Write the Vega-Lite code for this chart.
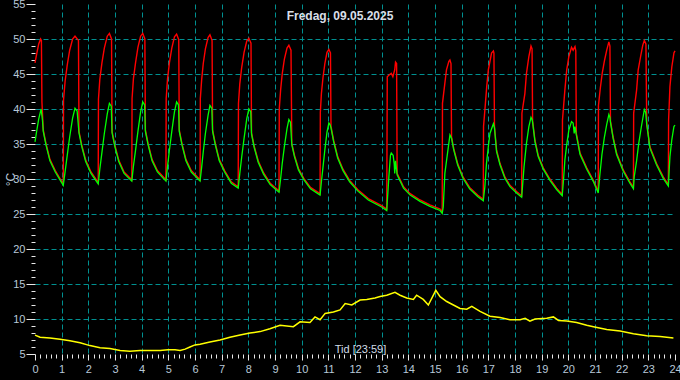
{
  "$schema": "https://vega.github.io/schema/vega-lite/v6.json",
  "width": 640,
  "height": 350,
  "autosize": {"type": "none"},
  "padding": {"left": 35, "top": 4, "right": 5, "bottom": 26},
  "background": "#000000",
  "title": {"text": "Fredag, 09.05.2025", "color": "#d8dee6", "fontSize": 12, "fontWeight": "bold", "font": "Liberation Sans", "anchor": "middle", "offset": -25, "dx": -15},
  "config": {"view": {"stroke": null}},
  "datasets": {
    "rod": [
      {"t":0,"v":46.6},{"t":0.07,"v":48.0},{"t":0.14,"v":49.3},{"t":0.21,"v":50.0},{"t":0.24,"v":49.8},{"t":0.26,"v":41.0},{"t":0.31,"v":37.0},
      {"t":0.41,"v":35.1},{"t":0.56,"v":32.8},{"t":0.76,"v":31.2},{"t":1.01,"v":29.6},{"t":1.06,"v":29.3},
      {"t":1.07,"v":41.3},{"t":1.13,"v":44.0},{"t":1.21,"v":46.3},{"t":1.30,"v":48.4},{"t":1.41,"v":50.0},{"t":1.50,"v":50.4},{"t":1.63,"v":49.8},{"t":1.65,"v":36.8},
      {"t":1.75,"v":34.9},{"t":1.90,"v":32.7},{"t":2.10,"v":31.0},{"t":2.37,"v":29.5},
      {"t":2.38,"v":41.4},{"t":2.43,"v":44.2},{"t":2.51,"v":46.6},{"t":2.60,"v":48.7},{"t":2.71,"v":50.4},{"t":2.79,"v":50.8},{"t":2.87,"v":50.0},{"t":2.89,"v":36.8},
      {"t":2.99,"v":34.9},{"t":3.14,"v":32.7},{"t":3.34,"v":31.0},{"t":3.63,"v":29.9},
      {"t":3.64,"v":41.5},{"t":3.69,"v":44.3},{"t":3.77,"v":46.6},{"t":3.86,"v":48.8},{"t":3.96,"v":50.4},{"t":4.04,"v":50.8},{"t":4.12,"v":50.0},{"t":4.14,"v":37.0},
      {"t":4.24,"v":35.1},{"t":4.39,"v":32.8},{"t":4.59,"v":31.2},{"t":4.91,"v":29.9},
      {"t":4.92,"v":41.5},{"t":4.97,"v":44.3},{"t":5.04,"v":46.6},{"t":5.13,"v":48.7},{"t":5.23,"v":50.3},{"t":5.31,"v":50.7},{"t":5.39,"v":49.9},{"t":5.41,"v":37.0},
      {"t":5.51,"v":35.1},{"t":5.66,"v":32.8},{"t":5.86,"v":31.2},{"t":6.19,"v":29.9},
      {"t":6.20,"v":41.5},{"t":6.25,"v":44.2},{"t":6.31,"v":46.5},{"t":6.39,"v":48.6},{"t":6.49,"v":50.2},{"t":6.56,"v":50.6},{"t":6.64,"v":49.8},{"t":6.66,"v":37.0},
      {"t":6.76,"v":35.1},{"t":6.91,"v":32.8},{"t":7.11,"v":31.2},{"t":7.36,"v":29.6},{"t":7.62,"v":28.9},
      {"t":7.63,"v":40.8},{"t":7.68,"v":43.6},{"t":7.75,"v":45.9},{"t":7.84,"v":48.1},{"t":7.94,"v":49.7},{"t":8.02,"v":50.1},{"t":8.10,"v":49.4},{"t":8.12,"v":36.6},
      {"t":8.22,"v":34.7},{"t":8.37,"v":32.6},{"t":8.57,"v":30.9},{"t":8.82,"v":29.4},{"t":9.15,"v":28.3},
      {"t":9.16,"v":40.0},{"t":9.21,"v":42.7},{"t":9.27,"v":45.0},{"t":9.35,"v":47.1},{"t":9.45,"v":48.7},{"t":9.52,"v":49.1},{"t":9.60,"v":48.4},{"t":9.63,"v":35.1},
      {"t":9.73,"v":33.4},{"t":9.88,"v":31.5},{"t":10.08,"v":30.1},{"t":10.33,"v":28.8},{"t":10.69,"v":27.9},
      {"t":10.70,"v":39.5},{"t":10.74,"v":42.2},{"t":10.80,"v":44.5},{"t":10.87,"v":46.5},{"t":10.95,"v":48.1},{"t":11.02,"v":48.5},{"t":11.08,"v":48.0},{"t":11.10,"v":37.5},
      {"t":11.20,"v":35.5},{"t":11.35,"v":33.2},{"t":11.55,"v":31.4},{"t":11.80,"v":29.8},{"t":12.10,"v":28.5},{"t":12.50,"v":27.2},{"t":13.00,"v":26.2},{"t":13.19,"v":25.7},
      {"t":13.21,"v":44.6},{"t":13.29,"v":44.9},{"t":13.36,"v":45.1},{"t":13.42,"v":44.6},{"t":13.49,"v":45.6},{"t":13.52,"v":46.7},{"t":13.56,"v":46.5},{"t":13.58,"v":30.8},
      {"t":13.82,"v":28.9},{"t":14.07,"v":27.9},{"t":14.44,"v":27.0},{"t":14.81,"v":26.3},{"t":15.19,"v":25.7},{"t":15.27,"v":25.3},
      {"t":15.28,"v":40.8},{"t":15.37,"v":43.7},{"t":15.43,"v":45.6},{"t":15.52,"v":46.8},{"t":15.56,"v":47.0},{"t":15.60,"v":46.5},{"t":15.62,"v":36.0},
      {"t":15.70,"v":34.4},{"t":15.85,"v":32.2},{"t":16.05,"v":30.3},{"t":16.30,"v":28.8},{"t":16.60,"v":27.7},{"t":16.81,"v":27.1},
      {"t":16.82,"v":37.5},{"t":16.88,"v":40.3},{"t":16.94,"v":43.2},{"t":17.00,"v":45.6},{"t":17.12,"v":48.0},{"t":17.19,"v":48.3},{"t":17.21,"v":48.0},{"t":17.23,"v":37.5},
      {"t":17.31,"v":34.1},{"t":17.44,"v":32.2},{"t":17.62,"v":30.3},{"t":17.81,"v":29.1},{"t":18.06,"v":28.2},{"t":18.25,"v":27.6},
      {"t":18.26,"v":39.4},{"t":18.37,"v":42.2},{"t":18.43,"v":45.1},{"t":18.52,"v":47.5},{"t":18.60,"v":49.0},{"t":18.64,"v":48.6},{"t":18.66,"v":38.3},
      {"t":18.75,"v":35.5},{"t":18.87,"v":33.4},{"t":19.06,"v":31.6},{"t":19.31,"v":30.0},{"t":19.56,"v":28.7},{"t":19.77,"v":27.8},
      {"t":19.78,"v":38.4},{"t":19.87,"v":42.7},{"t":19.94,"v":45.6},{"t":20.02,"v":47.5},{"t":20.12,"v":48.8},{"t":20.18,"v":48.4},{"t":20.25,"v":48.9},{"t":20.28,"v":48.3},{"t":20.30,"v":36.5},
      {"t":20.44,"v":33.7},{"t":20.69,"v":31.6},{"t":20.93,"v":29.9},{"t":21.12,"v":28.2},
      {"t":21.13,"v":40.5},{"t":21.20,"v":43.0},{"t":21.27,"v":45.1},{"t":21.36,"v":47.0},{"t":21.44,"v":48.4},{"t":21.52,"v":49.6},{"t":21.56,"v":49.0},{"t":21.58,"v":38.3},
      {"t":21.68,"v":36.0},{"t":21.81,"v":33.7},{"t":22.06,"v":31.3},{"t":22.31,"v":29.6},{"t":22.44,"v":28.8},
      {"t":22.45,"v":39.4},{"t":22.56,"v":42.7},{"t":22.62,"v":45.6},{"t":22.71,"v":47.5},{"t":22.79,"v":49.1},{"t":22.85,"v":49.8},{"t":22.91,"v":49.3},{"t":22.94,"v":38.0},
      {"t":23.06,"v":34.6},{"t":23.31,"v":32.2},{"t":23.56,"v":30.3},{"t":23.75,"v":29.2},
      {"t":23.76,"v":38.4},{"t":23.81,"v":43.2},{"t":23.88,"v":46.0},{"t":23.96,"v":48.0},{"t":24.0,"v":48.3}
    ],
    "gron": [
      {"t":0,"v":35.3},{"t":0.07,"v":37.0},{"t":0.14,"v":38.6},{"t":0.23,"v":40.0},{"t":0.28,"v":38.4},{"t":0.31,"v":36.8},
      {"t":0.41,"v":34.9},{"t":0.56,"v":32.6},{"t":0.76,"v":31.0},{"t":1.01,"v":29.4},{"t":1.06,"v":29.1},
      {"t":1.13,"v":31.1},{"t":1.21,"v":33.4},{"t":1.30,"v":36.0},{"t":1.41,"v":38.7},{"t":1.50,"v":40.1},{"t":1.58,"v":39.7},{"t":1.65,"v":36.6},
      {"t":1.75,"v":34.7},{"t":1.90,"v":32.5},{"t":2.10,"v":30.8},{"t":2.37,"v":29.3},
      {"t":2.43,"v":31.4},{"t":2.51,"v":33.8},{"t":2.60,"v":36.5},{"t":2.71,"v":39.3},{"t":2.79,"v":40.8},{"t":2.86,"v":40.4},{"t":2.89,"v":36.6},
      {"t":2.99,"v":34.7},{"t":3.14,"v":32.5},{"t":3.34,"v":30.8},{"t":3.63,"v":29.7},
      {"t":3.69,"v":31.8},{"t":3.77,"v":34.1},{"t":3.86,"v":36.8},{"t":3.96,"v":39.6},{"t":4.04,"v":41.0},{"t":4.11,"v":40.6},{"t":4.14,"v":36.8},
      {"t":4.24,"v":34.9},{"t":4.39,"v":32.6},{"t":4.59,"v":31.0},{"t":4.91,"v":29.7},
      {"t":4.97,"v":31.8},{"t":5.04,"v":34.1},{"t":5.13,"v":36.8},{"t":5.23,"v":39.6},{"t":5.31,"v":41.0},{"t":5.38,"v":40.6},{"t":5.41,"v":36.8},
      {"t":5.51,"v":34.9},{"t":5.66,"v":32.6},{"t":5.86,"v":31.0},{"t":6.19,"v":29.7},
      {"t":6.25,"v":31.7},{"t":6.31,"v":33.9},{"t":6.39,"v":36.5},{"t":6.49,"v":39.1},{"t":6.56,"v":40.5},{"t":6.63,"v":40.1},{"t":6.66,"v":36.8},
      {"t":6.76,"v":34.9},{"t":6.91,"v":32.6},{"t":7.11,"v":31.0},{"t":7.36,"v":29.4},{"t":7.62,"v":28.7},
      {"t":7.68,"v":30.8},{"t":7.75,"v":33.1},{"t":7.84,"v":35.8},{"t":7.94,"v":38.6},{"t":8.02,"v":40.0},{"t":8.09,"v":39.6},{"t":8.12,"v":36.4},
      {"t":8.22,"v":34.5},{"t":8.37,"v":32.4},{"t":8.57,"v":30.7},{"t":8.82,"v":29.2},{"t":9.15,"v":28.1},
      {"t":9.21,"v":30.0},{"t":9.27,"v":32.2},{"t":9.35,"v":34.6},{"t":9.45,"v":37.2},{"t":9.52,"v":38.5},{"t":9.58,"v":38.1},{"t":9.63,"v":34.9},
      {"t":9.73,"v":33.2},{"t":9.88,"v":31.3},{"t":10.08,"v":29.9},{"t":10.33,"v":28.6},{"t":10.69,"v":27.7},
      {"t":10.74,"v":29.6},{"t":10.80,"v":31.7},{"t":10.87,"v":34.2},{"t":10.95,"v":36.7},{"t":11.02,"v":38.0},{"t":11.06,"v":37.8},{"t":11.10,"v":37.3},
      {"t":11.20,"v":35.3},{"t":11.35,"v":33.0},{"t":11.55,"v":31.2},{"t":11.80,"v":29.6},{"t":12.10,"v":28.3},{"t":12.50,"v":27.0},{"t":13.00,"v":26.0},{"t":13.19,"v":25.5},
      {"t":13.27,"v":30.3},{"t":13.33,"v":33.4},{"t":13.36,"v":33.7},{"t":13.43,"v":33.4},{"t":13.47,"v":32.2},{"t":13.49,"v":30.8},{"t":13.52,"v":32.6},{"t":13.58,"v":30.6},
      {"t":13.82,"v":28.7},{"t":14.07,"v":27.7},{"t":14.44,"v":26.8},{"t":14.81,"v":26.1},{"t":15.19,"v":25.5},{"t":15.27,"v":25.1},
      {"t":15.31,"v":26.0},{"t":15.37,"v":30.8},{"t":15.47,"v":33.7},{"t":15.56,"v":36.3},{"t":15.60,"v":36.0},{"t":15.62,"v":35.8},
      {"t":15.70,"v":34.2},{"t":15.85,"v":32.0},{"t":16.05,"v":30.1},{"t":16.30,"v":28.6},{"t":16.60,"v":27.5},{"t":16.81,"v":26.9},
      {"t":16.87,"v":28.9},{"t":16.93,"v":32.2},{"t":17.00,"v":34.6},{"t":17.06,"v":36.5},{"t":17.19,"v":37.9},{"t":17.23,"v":37.3},
      {"t":17.31,"v":33.9},{"t":17.44,"v":32.0},{"t":17.62,"v":30.1},{"t":17.81,"v":28.9},{"t":18.06,"v":28.0},{"t":18.25,"v":27.4},
      {"t":18.34,"v":31.8},{"t":18.43,"v":35.1},{"t":18.52,"v":37.5},{"t":18.60,"v":38.8},{"t":18.64,"v":38.5},{"t":18.66,"v":38.1},
      {"t":18.75,"v":35.3},{"t":18.87,"v":33.2},{"t":19.06,"v":31.4},{"t":19.31,"v":29.8},{"t":19.56,"v":28.5},{"t":19.77,"v":27.6},
      {"t":19.82,"v":29.9},{"t":19.87,"v":32.7},{"t":19.94,"v":34.9},{"t":20.02,"v":37.0},{"t":20.12,"v":38.2},{"t":20.18,"v":38.0},{"t":20.22,"v":36.5},{"t":20.25,"v":37.5},{"t":20.30,"v":36.3},
      {"t":20.44,"v":33.5},{"t":20.69,"v":31.4},{"t":20.93,"v":29.7},{"t":21.12,"v":28.0},
      {"t":21.18,"v":30.5},{"t":21.26,"v":33.5},{"t":21.35,"v":35.9},{"t":21.44,"v":37.8},{"t":21.52,"v":39.2},{"t":21.56,"v":38.8},{"t":21.58,"v":38.1},
      {"t":21.68,"v":35.8},{"t":21.81,"v":33.5},{"t":22.06,"v":31.1},{"t":22.31,"v":29.4},{"t":22.44,"v":28.6},
      {"t":22.47,"v":30.3},{"t":22.56,"v":32.6},{"t":22.64,"v":35.1},{"t":22.74,"v":37.5},{"t":22.85,"v":39.9},{"t":22.90,"v":39.5},{"t":22.94,"v":37.8},
      {"t":23.06,"v":34.4},{"t":23.31,"v":32.0},{"t":23.56,"v":30.1},{"t":23.75,"v":29.0},
      {"t":23.81,"v":33.2},{"t":23.88,"v":35.6},{"t":23.96,"v":37.5},{"t":24.0,"v":37.7}
    ],
    "gul": [
      {"t":0,"v":7.7},{"t":0.19,"v":7.4},{"t":0.56,"v":7.3},{"t":0.94,"v":7.1},{"t":1.31,"v":6.9},{"t":1.69,"v":6.6},{"t":2.06,"v":6.2},{"t":2.44,"v":5.9},{"t":2.81,"v":5.8},{"t":3.19,"v":5.5},{"t":3.56,"v":5.4},{"t":3.94,"v":5.5},{"t":4.31,"v":5.5},{"t":4.69,"v":5.5},{"t":4.99,"v":5.6},{"t":5.25,"v":5.6},{"t":5.44,"v":5.5},{"t":5.63,"v":5.7},{"t":5.81,"v":6.0},{"t":6.0,"v":6.3},{"t":6.19,"v":6.4},
      {"t":6.56,"v":6.7},{"t":6.94,"v":7.0},{"t":7.31,"v":7.4},{"t":7.69,"v":7.7},{"t":8.06,"v":8.0},{"t":8.44,"v":8.2},{"t":8.81,"v":8.6},{"t":9.19,"v":9.1},{"t":9.69,"v":8.9},{"t":9.94,"v":9.6},{"t":10.31,"v":9.5},{"t":10.5,"v":10.3},{"t":10.69,"v":9.9},{"t":10.88,"v":10.8},
      {"t":11.19,"v":11.0},{"t":11.44,"v":11.3},{"t":11.63,"v":12.2},{"t":11.88,"v":12.0},{"t":12.19,"v":12.7},{"t":12.44,"v":12.8},{"t":12.75,"v":13.0},{"t":12.94,"v":13.2},{"t":13.19,"v":13.4},{"t":13.5,"v":13.8},{"t":13.69,"v":13.4},{"t":13.94,"v":13.0},{"t":14.19,"v":12.8},{"t":14.31,"v":13.4},{"t":14.56,"v":12.8},{"t":14.75,"v":12.0},{"t":15.03,"v":14.1},{"t":15.19,"v":13.2},{"t":15.44,"v":12.5},{"t":15.69,"v":12.0},{"t":15.94,"v":11.5},{"t":16.19,"v":11.4},{"t":16.38,"v":11.8},{"t":16.69,"v":11.1},
      {"t":17.06,"v":10.4},{"t":17.44,"v":10.2},{"t":17.81,"v":9.9},{"t":18.19,"v":9.9},{"t":18.38,"v":10.1},{"t":18.56,"v":9.7},{"t":18.75,"v":10.0},{"t":19.19,"v":10.1},{"t":19.44,"v":10.3},{"t":19.63,"v":9.8},{"t":19.94,"v":9.7},{"t":20.31,"v":9.5},{"t":20.69,"v":9.1},{"t":20.94,"v":8.9},{"t":21.44,"v":8.5},{"t":21.94,"v":8.3},{"t":22.44,"v":7.9},{"t":22.94,"v":7.6},{"t":23.44,"v":7.5},{"t":23.94,"v":7.3}
    ]
  },
  "encoding": {
    "x": {"field": "t", "type": "quantitative",
      "scale": {"domain": [0, 24], "nice": false, "zero": false},
      "axis": {"tickCount": 120, "labelExpr": "abs(datum.value-round(datum.value))<0.01 ? format(datum.value,'d') : ''",
        "labelOverlap": false, "labelFlush": false, "domain": false,
        "tickColor": "#e8e8e8", "tickSize": {"condition": {"test": "abs(datum.value-round(datum.value))<0.01", "value": 6}, "value": 4},
        "grid": true, "gridColor": "#009090", "gridDash": [5, 3],
        "gridOpacity": {"condition": {"test": "abs(datum.value-round(datum.value))<0.01 && datum.value>0.5 && datum.value<23.5", "value": 1}, "value": 0},
        "labelColor": "#b8c8d8", "labelFont": "Liberation Sans Narrow, Liberation Sans", "labelFontSize": 11, "labelPadding": 3,
        "title": "Tid [23:59]", "titleX": 325, "titleY": -2, "titleBaseline": "alphabetic", "titleColor": "#d0dce8",
        "titleFont": "Liberation Sans", "titleFontSize": 11, "titleFontWeight": "normal"}},
    "y": {"field": "v", "type": "quantitative",
      "scale": {"domain": [5, 55], "nice": false, "zero": false},
      "axis": {"tickCount": 50, "labelExpr": "datum.value % 5 === 0 ? format(datum.value,'d') : ''",
        "labelOverlap": false, "labelFlush": false, "domain": false,
        "tickColor": "#e8e8e8", "tickSize": {"condition": {"test": "datum.value % 5 === 0", "value": 9}, "value": 4},
        "grid": true, "gridColor": "#009090", "gridDash": [5, 3],
        "gridOpacity": {"condition": {"test": "datum.value % 5 === 0 && datum.value > 5 && datum.value < 55", "value": 1}, "value": 0},
        "labelColor": "#b8c8d8", "labelFont": "Liberation Sans Narrow, Liberation Sans", "labelFontSize": 11, "labelPadding": 1,
        "title": "°C", "titleX": -25, "titleY": 175, "titleAngle": -90, "titleAlign": "center", "titleBaseline": "middle",
        "titleColor": "#b8c8d8", "titleFont": "Liberation Sans", "titleFontSize": 12, "titleFontWeight": "normal"}}
  },
  "layer": [
    {"data": {"name": "gul"}, "mark": {"type": "line", "color": "#ffff00", "strokeWidth": 1.5}},
    {"data": {"name": "rod"}, "mark": {"type": "line", "color": "#ff0000", "strokeWidth": 1.4}},
    {"data": {"name": "gron"}, "mark": {"type": "line", "color": "#00ff00", "strokeWidth": 1.3}},
    {"data": {"values": [{}]}, "mark": {"type": "rule", "color": "#00e0e8", "strokeWidth": 2, "strokeDash": [11, 12]},
      "encoding": {"x": {"datum": 24}, "y": {"datum": 55}, "y2": {"datum": 5}}}
  ]
}
